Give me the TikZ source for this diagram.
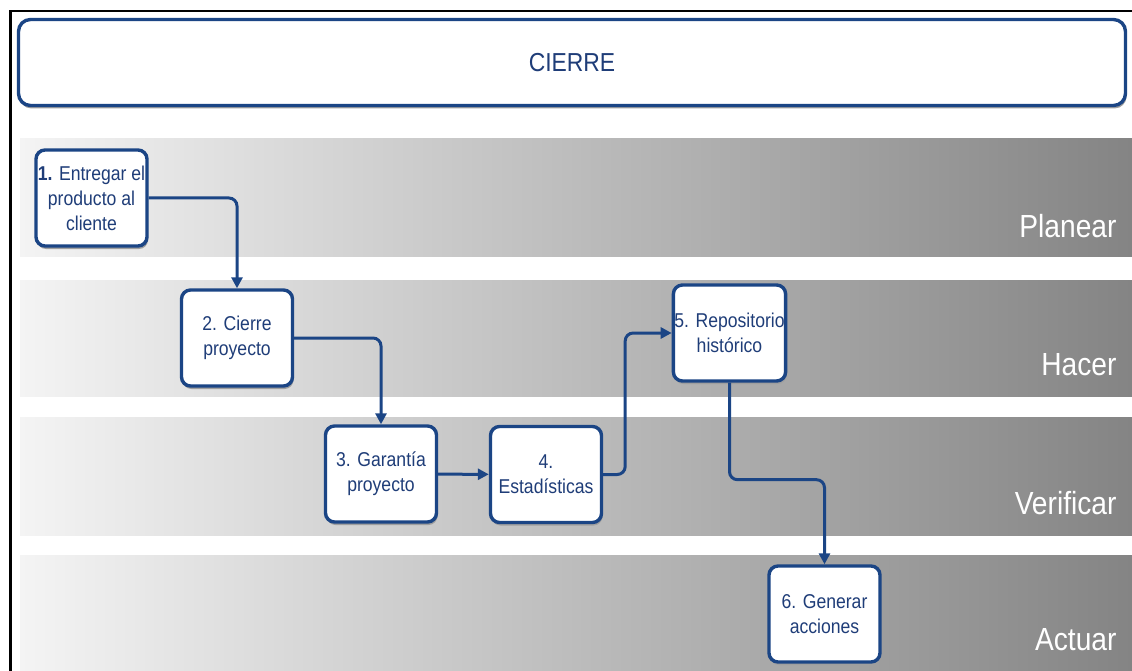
\documentclass[tikz,border=0pt]{standalone}
\usepackage{fontspec}
\setmainfont[FakeStretch=0.88]{Liberation Sans}
\usetikzlibrary{arrows.meta,shadows}
\definecolor{azul}{HTML}{1B4585}
\definecolor{textoazul}{HTML}{1F3D78}
\definecolor{grisclaro}{HTML}{F4F4F4}
\definecolor{grisoscuro}{HTML}{848484}

\begin{document}
\begin{tikzpicture}[x=1pt, y=-1pt,
    paso/.style={rectangle, rounded corners=9pt, draw=azul, line width=3.4pt, fill=white,
      minimum width=111pt, minimum height=96pt, inner sep=1pt, align=center,
      text=textoazul, font=\fontsize{20}{25}\selectfont,
      drop shadow={shadow xshift=1pt, shadow yshift=-3pt, fill=gray!75, opacity=1}},
    banda/.style={left color=grisclaro, right color=grisoscuro, draw=none},
    fase/.style={anchor=east, text=white, font=\fontsize{32}{36}\selectfont},
    flecha/.style={draw=azul, line width=3pt, rounded corners=8pt,
      -{Triangle[length=11pt,width=11pt]}}]
    \useasboundingbox (0,0) rectangle (1132,671);

    % bandas
    \shade[banda] (20,139) rectangle (1132,256);
    \shade[banda] (20,280) rectangle (1132,396);
    \shade[banda] (20,417) rectangle (1132,535);
    \shade[banda] (20,555) rectangle (1132,671);
    \node[fase] (planear) at (1120,226) {Planear};
    \node[fase] (hacer) at (1120,365) {Hacer};
    \node[fase] (verificar) at (1120,503) {Verificar};
    \node[fase] (actuar) at (1120,640) {Actuar};

    \draw[line width=2.5pt] (10.5,671) -- (10.5,11) -- (1132,11);

    \node[paso, minimum width=1107pt, minimum height=86pt, rounded corners=12pt,
      font=\fontsize{26}{30}\selectfont] (titulo) at (572,62.5) {CIERRE};

    \node[paso] (P1) at (91.5,198) {\textbf{1.} Entregar el\\producto al\\cliente};
    \node[paso] (P2) at (237,338) {2. Cierre\\proyecto};
    \node[paso] (P3) at (381,474) {3. Garantía\\proyecto};
    \node[paso] (P4) at (546,474.5) {4.\\Estadísticas};
    \node[paso] (P5) at (729.5,333) {5. Repositorio\\histórico};
    \node[paso] (P6) at (824.5,614) {6. Generar\\acciones};

    % flechas
    \draw[flecha] (P1.east) -| (P2.north);
    \draw[flecha] (P2.east) -| (P3.north);
    \draw[flecha] (P3) -- (P4);
    \draw[flecha] (P4.east) -- ++(22,0) |- (P5.west);
    \draw[flecha] (P5.south) -- ++(0,97) -| (P6.north);
\end{tikzpicture}
\end{document}
